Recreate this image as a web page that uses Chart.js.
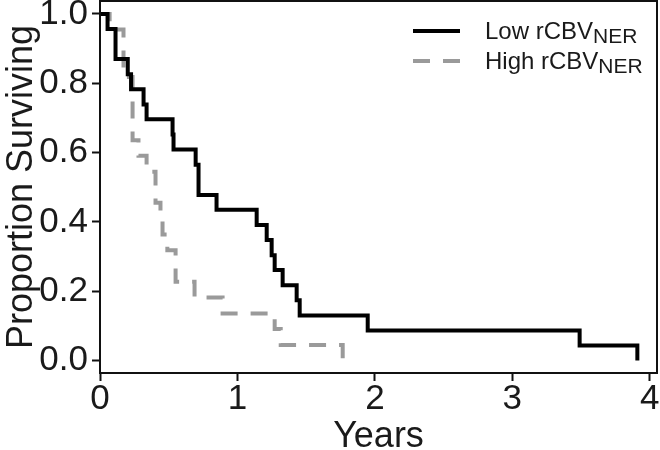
<!DOCTYPE html>
<html>
<head>
<meta charset="utf-8">
<script src="https://cdn.jsdelivr.net/npm/chart.js@4.4.1/dist/chart.umd.min.js"></script>
<style>
  body { margin: 0; background: #fff; }
  #km { display: block; }
</style>
</head>
<body>
<canvas id="km" width="660" height="450"></canvas>
<script>
// Kaplan-Meier curves (years, proportion surviving)
var lowTimes = [0, 0.055, 0.113, 0.202, 0.226, 0.317, 0.339, 0.528, 0.535, 0.696, 0.717, 0.848,
                1.14, 1.213, 1.249, 1.271, 1.329, 1.431, 1.453, 1.948, 3.49, 3.91];
var lowSurv  = [1, 0.957, 0.870, 0.826, 0.783, 0.739, 0.696, 0.652, 0.609, 0.565, 0.478, 0.435,
                0.391, 0.348, 0.304, 0.261, 0.217, 0.174, 0.130, 0.087, 0.043, 0];

var highTimes = [0, 0.07, 0.171, 0.237, 0.28, 0.339, 0.404, 0.44, 0.455, 0.49, 0.55, 0.688,
                 0.892, 1.271, 1.315, 1.766];
var highSurv  = [1, 0.955, 0.818, 0.636, 0.591, 0.545, 0.455, 0.409, 0.364, 0.318, 0.227, 0.182,
                 0.136, 0.091, 0.045, 0];

var xTicks = [0, 1, 2, 3, 4];
var yTicks = [0, 0.2, 0.4, 0.6, 0.8, 1.0];
var seriesNames = ['Low rCBV', 'High rCBV'];
var subscript = 'NER';

var FONT = "'Liberation Sans', Arial, sans-serif";
var TEXT = '#1a1a1a';
var GREY = '#9a9a9a';

function toPoints(times, surv) {
  return times.map(function (t, i) { return { x: t, y: surv[i] }; });
}

// box around the plot area
var boxPlugin = {
  id: 'box',
  afterDraw: function (chart) {
    var a = chart.chartArea, ctx = chart.ctx;
    ctx.save();
    ctx.strokeStyle = '#111';
    ctx.lineWidth = 2;
    ctx.strokeRect(a.left, a.top, a.right - a.left, a.bottom - a.top);
    ctx.restore();
  }
};

// legend with subscripts
var legendPlugin = {
  id: 'kmLegend',
  afterDraw: function (chart) {
    var a = chart.chartArea, ctx = chart.ctx;
    var styles = [
      { color: '#000', dash: [] },
      { color: GREY, dash: [17, 13] }
    ];
    ctx.save();
    seriesNames.forEach(function (name, i) {
      var y = a.top + 30 + i * 30;
      ctx.beginPath();
      ctx.strokeStyle = styles[i].color;
      ctx.lineWidth = 4;
      ctx.setLineDash(styles[i].dash);
      ctx.moveTo(a.left + 313, y);
      ctx.lineTo(a.left + 360, y);
      ctx.stroke();
      ctx.setLineDash([]);
      ctx.fillStyle = TEXT;
      ctx.textBaseline = 'alphabetic';
      ctx.textAlign = 'left';
      ctx.font = '24px ' + FONT;
      var tx = a.left + 385;
      ctx.fillText(name, tx, y + 8);
      var w = ctx.measureText(name).width;
      ctx.font = '21px ' + FONT;
      ctx.fillText(subscript, tx + w, y + 12);
    });
    ctx.restore();
  }
};

new Chart(document.getElementById('km'), {
  type: 'line',
  data: {
    datasets: [{
      label: seriesNames[0],
      data: toPoints(lowTimes, lowSurv),
      stepped: 'before',
      borderColor: '#000',
      borderWidth: 4,
      pointRadius: 0,
      borderJoinStyle: 'miter',
      fill: false
    }, {
      label: seriesNames[1],
      data: toPoints(highTimes, highSurv),
      stepped: 'before',
      borderColor: GREY,
      borderWidth: 4,
      borderDash: [17, 13],
      pointRadius: 0,
      borderJoinStyle: 'miter',
      fill: false
    }]
  },
  options: {
    responsive: false,
    animation: false,
    layout: { padding: { top: 1, right: 3, left: 0, bottom: 0 } },
    plugins: { legend: { display: false }, tooltip: { enabled: false } },
    scales: {
      x: {
        type: 'linear',
        min: 0,
        max: 4.053,
        afterBuildTicks: function (axis) { axis.ticks = xTicks.map(function (v) { return { value: v }; }); },
        afterFit: function (axis) {
          axis.height = 77;
          axis.paddingLeft = 0;
          axis.paddingRight = 0;
        },
        border: { display: false },
        grid: { drawOnChartArea: false, drawTicks: true, tickLength: 8, tickColor: '#111', tickWidth: 2 },
        ticks: { color: TEXT, font: { family: FONT, size: 35, lineHeight: 1 }, padding: 1, maxRotation: 0,
                 callback: function (v) { return String(v); } },
        title: { display: true, text: 'Years', color: TEXT, font: { family: FONT, size: 36, lineHeight: 1 },
                 padding: { top: 0, bottom: -5 } }
      },
      y: {
        min: -0.036,
        max: 1.0375,
        afterBuildTicks: function (axis) { axis.ticks = yTicks.map(function (v) { return { value: v }; }); },
        afterFit: function (axis) {
          axis.width = 100;
          axis.paddingTop = 0;
          axis.paddingBottom = 0;
        },
        border: { display: false },
        grid: { drawOnChartArea: false, drawTicks: true, tickLength: 8, tickColor: '#111', tickWidth: 2 },
        ticks: { color: TEXT, font: { family: FONT, size: 35 }, padding: 4,
                 callback: function (v) { return Number(v).toFixed(1); } },
        title: { display: true, text: 'Proportion Surviving', color: TEXT, font: { family: FONT, size: 36 }, padding: 0 }
      }
    }
  },
  plugins: [boxPlugin, legendPlugin]
});
</script>
</body>
</html>
